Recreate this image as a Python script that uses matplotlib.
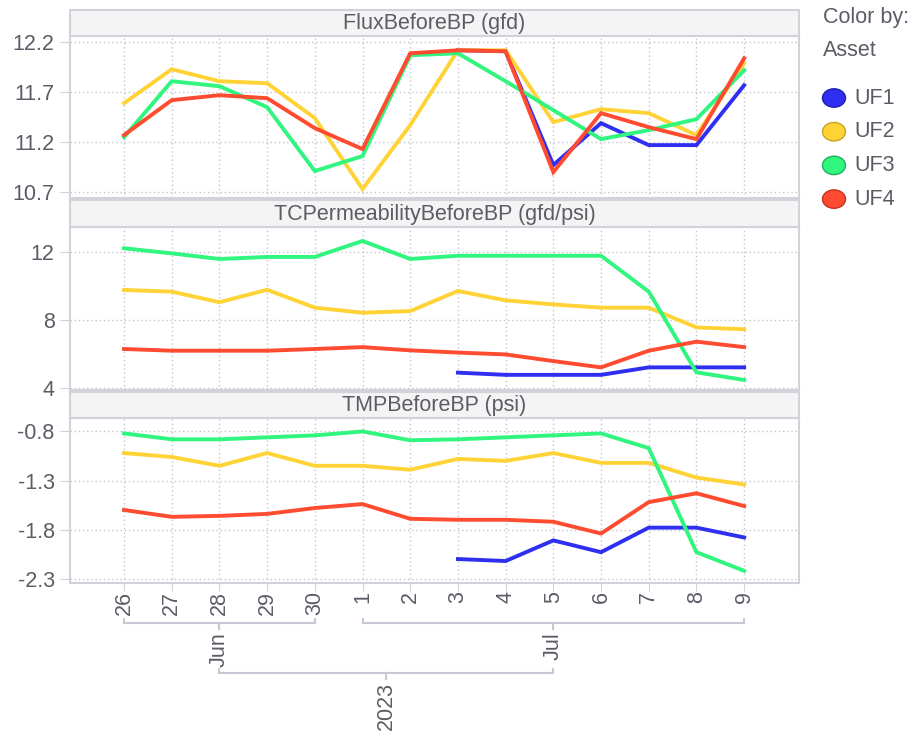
import matplotlib.pyplot as plt
from matplotlib.patches import Rectangle, Circle
from matplotlib.lines import Line2D
import matplotlib.transforms as mtransforms

plt.rcParams['font.family'] = ['Liberation Sans', 'DejaVu Sans']

# data
days = ['26', '27', '28', '29', '30', '1', '2', '3', '4', '5', '6', '7', '8', '9']
assets = ['UF1', 'UF2', 'UF3', 'UF4']
colors = ['#2f2ff2', '#ffd335', '#30f57f', '#ff4b30']
edge_colors = ['#2020b0', '#c9a120', '#20b060', '#c83020']

flux_uf1 = [None] * 7 + [12.12, 12.11, 10.97, 11.39, 11.17, 11.17, 11.77]
flux_uf2 = [11.59, 11.93, 11.81, 11.79, 11.44, 10.73, 11.37, 12.12, 12.12, 11.40, 11.53, 11.49, 11.27, 11.99]
flux_uf3 = [11.25, 11.81, 11.76, 11.55, 10.91, 11.06, 12.07, 12.09, 11.81, 11.52, 11.23, 11.32, 11.43, 11.92]
flux_uf4 = [11.27, 11.62, 11.67, 11.64, 11.34, 11.13, 12.09, 12.12, 12.11, 10.90, 11.49, 11.35, 11.23, 12.04]

perm_uf1 = [None] * 7 + [4.89, 4.76, 4.76, 4.76, 5.20, 5.20, 5.20]
perm_uf2 = [9.75, 9.65, 9.03, 9.76, 8.71, 8.41, 8.51, 9.69, 9.14, 8.90, 8.71, 8.71, 7.55, 7.44]
perm_uf3 = [12.20, 11.90, 11.57, 11.69, 11.69, 12.63, 11.57, 11.76, 11.76, 11.76, 11.76, 9.65, 4.91, 4.46]
perm_uf4 = [6.28, 6.18, 6.18, 6.18, 6.28, 6.39, 6.20, 6.07, 5.96, 5.57, 5.20, 6.18, 6.71, 6.39]

tmp_uf1 = [None] * 7 + [-2.10, -2.12, -1.91, -2.03, -1.78, -1.78, -1.88]
tmp_uf2 = [-1.02, -1.06, -1.15, -1.02, -1.15, -1.15, -1.19, -1.08, -1.10, -1.02, -1.12, -1.12, -1.27, -1.34]
tmp_uf3 = [-0.82, -0.88, -0.88, -0.86, -0.84, -0.80, -0.89, -0.88, -0.86, -0.84, -0.82, -0.97, -2.03, -2.22]
tmp_uf4 = [-1.60, -1.67, -1.66, -1.64, -1.58, -1.54, -1.69, -1.70, -1.70, -1.72, -1.84, -1.52, -1.43, -1.56]

panels = [
    ('FluxBeforeBP (gfd)', [flux_uf1, flux_uf2, flux_uf3, flux_uf4], [12.2, 11.7, 11.2, 10.7], (10.64, 12.263)),
    ('TCPermeabilityBeforeBP (gfd/psi)', [perm_uf1, perm_uf2, perm_uf3, perm_uf4], [12, 8, 4], (3.87, 13.45)),
    ('TMPBeforeBP (psi)', [tmp_uf1, tmp_uf2, tmp_uf3, tmp_uf4], [-0.8, -1.3, -1.8, -2.3], (-2.344, -0.663)),
]
# pixel layout: (header top, plot top, plot bottom)
rows = [(10, 36, 198), (200, 227, 390), (392, 418, 583)]

W, H = 912, 731
fig = plt.figure(figsize=(W / 100, H / 100), dpi=100)
text_c = '#5c5c66'
frame_c = '#d2d2da'
grid_c = '#c4c4cc'
left, right = 70, 799
fs = 15.5


def fx(x):
    return x / W


def fy(y):
    return 1 - y / H


xs = list(range(len(days)))
axes = []
for (title, series, yt, ylim), (ht, pt, pb) in zip(panels, rows):
    ax = fig.add_axes([fx(left), fy(pb), fx(right - left), (pb - pt) / H])
    for vals, c in zip(series, colors):
        px = [x for x, v in zip(xs, vals) if v is not None]
        pv = [v for v in vals if v is not None]
        ax.plot(px, pv, color=c, lw=2.8, solid_joinstyle='miter', zorder=3)
    ax.set_xlim(-1.132, 14.15)
    ax.set_ylim(*ylim)
    ax.set_yticks(yt)
    ax.set_yticklabels([str(v) for v in yt])
    ax.set_xticks(xs)
    ax.grid(True, color=grid_c, lw=1, linestyle=(0, (1, 2)))
    ax.tick_params(axis='y', length=7, color=frame_c, labelsize=fs, labelcolor=text_c, pad=4)
    ax.tick_params(axis='x', length=6, color=frame_c, labelbottom=False)
    for s in ax.spines.values():
        s.set_color(frame_c)
        s.set_linewidth(1.5)
    # facet header
    fig.patches.append(Rectangle((fx(left), fy(pt)), fx(right - left), (pt - ht) / H,
                                 transform=fig.transFigure, facecolor='#f4f4f4',
                                 edgecolor=frame_c, lw=1.5))
    fig.text(fx((left + right) / 2), fy((ht + pt) / 2 + 1), title, ha='center', va='center',
             fontsize=fs, color=text_c)
    axes.append(ax)

ax3 = axes[-1]
ax3.tick_params(axis='x', labelbottom=True, labelsize=fs, labelcolor=text_c, rotation=90, pad=0)
ax3.set_xticklabels(days)

# hierarchical date axis
tr = mtransforms.blended_transform_factory(ax3.transData, fig.transFigure)
br_c = '#c8c8d4'


def bracket(x0, x1, y, label, ty):
    xm = (x0 + x1) / 2
    for xx, yy in [([x0, x1], [y, y]), ([x0, x0], [y, y - 4]), ([x1, x1], [y, y - 4]),
                   ([xm, xm], [y, y + 6])]:
        fig.add_artist(Line2D(xx, [fy(v) for v in yy], transform=tr, color=br_c, lw=1.5))
    fig.text(xm, fy(ty), label, transform=tr, rotation=90, ha='center', va='top',
             fontsize=fs, color=text_c)


bracket(0, 4, 623, 'Jun', 632)
bracket(5, 13, 623, 'Jul', 632)
bracket(2, 9, 673, '2023', 682)

# legend
fig.text(fx(823), fy(17), 'Color by:', ha='left', va='center', fontsize=fs, color=text_c)
fig.text(fx(823), fy(50), 'Asset', ha='left', va='center', fontsize=fs, color=text_c)
for i, (name, c, ec) in enumerate(zip(assets, colors, edge_colors)):
    cy = 98 + i * 33.7
    fig.patches.append(Circle((fx(834), fy(cy)), 11.5 / W, transform=fig.transFigure,
                              facecolor=c, edgecolor=ec, lw=1))
    fig.text(fx(854), fy(cy), name, ha='left', va='center', fontsize=fs, color=text_c)

fig.savefig('out.png', dpi=100)
